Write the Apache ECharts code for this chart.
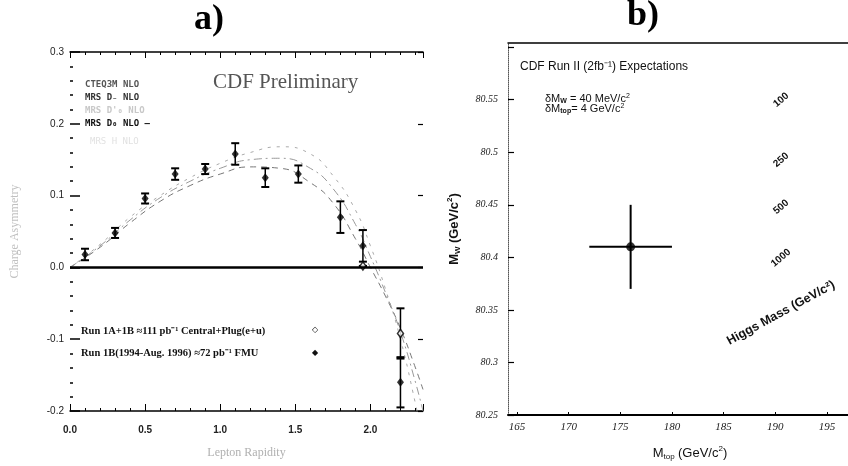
<!DOCTYPE html>
<html><head><meta charset="utf-8">
<script src="https://cdn.jsdelivr.net/npm/echarts@6/dist/echarts.min.js"></script>
<style>html,body{margin:0;padding:0;background:#fff}#c{width:848px;height:466px}</style>
</head><body><div id="c"></div>
<script>
// ---- Panel a) : charge asymmetry vs lepton rapidity ----
const rapidity   = [0.1, 0.3, 0.5, 0.7, 0.9, 1.1, 1.3, 1.52, 1.8, 1.95, 2.2];
const asymmetry  = [0.018, 0.048, 0.096, 0.13, 0.137, 0.158, 0.125, 0.13, 0.07, 0.03, -0.16];
const asymErr    = [0.008, 0.007, 0.007, 0.008, 0.007, 0.015, 0.013, 0.012, 0.022, 0.022, 0.035];
const openRap    = [1.95, 2.2];
const openAsym   = [0.002, -0.092];
const openErr    = [0.0, 0.035];
const curveX     = [0, 0.2, 0.4, 0.6, 0.8, 1.0, 1.2, 1.4, 1.6, 1.75, 1.9, 2.0, 2.1, 2.2, 2.3, 2.35];
const curveCTEQ  = [0, 0.028, 0.062, 0.092, 0.114, 0.13, 0.14, 0.138, 0.118, 0.09, 0.04, 0.0, -0.04, -0.085, -0.14, -0.17];
const curveMRSDm = [0, 0.032, 0.07, 0.1, 0.125, 0.145, 0.16, 0.168, 0.158, 0.128, 0.08, 0.03, -0.03, -0.1, -0.19, -0.24];
const curveMRSD0 = [0, 0.03, 0.066, 0.097, 0.12, 0.138, 0.15, 0.152, 0.138, 0.11, 0.06, 0.015, -0.035, -0.09, -0.16, -0.2];

// ---- Panel b) : M_W vs M_top ----
const mTop = [176];
const mW = [80.41];
const mTopErr = [4];
const mWErr = [0.04];
const mTopTicks = [165, 170, 175, 180, 185, 190, 195];
const higgsLabels = ['100', '250', '500', '1000'];

const chart = echarts.init(document.getElementById('c'), null, {renderer: 'canvas'});

function errBarY(params, api) {
  const x = api.value(0), y = api.value(1), e = api.value(2);
  const t = api.coord([x, y + e]), b = api.coord([x, y - e]);
  const cw = 4;
  return {type: 'group', children: [
    {type: 'line', shape: {x1: t[0], y1: t[1], x2: b[0], y2: b[1]}, style: {stroke: '#000', lineWidth: 1.5}},
    {type: 'line', shape: {x1: t[0] - cw, y1: t[1], x2: t[0] + cw, y2: t[1]}, style: {stroke: '#000', lineWidth: 2}},
    {type: 'line', shape: {x1: b[0] - cw, y1: b[1], x2: b[0] + cw, y2: b[1]}, style: {stroke: '#000', lineWidth: 2}}
  ]};
}
function errCross(params, api) {
  const x = api.value(0), y = api.value(1), ex = api.value(2), ey = api.value(3);
  const l = api.coord([x - ex, y]), r = api.coord([x + ex, y]);
  const t = api.coord([x, y + ey]), b = api.coord([x, y - ey]);
  return {type: 'group', children: [
    {type: 'line', shape: {x1: l[0], y1: l[1], x2: r[0], y2: r[1]}, style: {stroke: '#000', lineWidth: 2}},
    {type: 'line', shape: {x1: t[0], y1: t[1], x2: b[0], y2: b[1]}, style: {stroke: '#000', lineWidth: 2}}
  ]};
}

const solidData = rapidity.map((x, i) => [x, asymmetry[i], asymErr[i]]);
const openData = openRap.map((x, i) => [x, openAsym[i], openErr[i]]);
const curveLine = (arr) => curveX.map((x, i) => [x, arr[i]]);

const serif = 'Liberation Serif';
const sans = 'Liberation Sans';

const option = {
  backgroundColor: '#fff',
  animation: false,
  grid: [
    {left: 70, top: 52, width: 353, height: 359},
    {left: 508, top: 43, width: 340, height: 374}
  ],
  xAxis: [
    {gridIndex: 0, type: 'value', min: 0, max: 2.35, interval: 0.5, position: 'bottom',
     name: 'Lepton Rapidity', nameLocation: 'middle', nameGap: 36,
     nameTextStyle: {fontFamily: serif, fontSize: 12, color: '#b0b0b0'},
     axisLine: {show: true, onZero: false, lineStyle: {color: '#000', width: 1.5}},
     axisTick: {inside: true, length: 7, lineStyle: {color: '#000', width: 1}},
     minorTick: {show: true, splitNumber: 5, length: 3, lineStyle: {color: '#000'}},
     axisLabel: {showMaxLabel: false, fontFamily: sans, fontWeight: 'bold', fontSize: 10, color: '#222', margin: 14,
       formatter: v => v.toFixed(1)},
     splitLine: {show: false}},
    {gridIndex: 0, type: 'value', min: 0, max: 2.35, interval: 0.5, position: 'top',
     axisLine: {show: true, onZero: false, lineStyle: {color: '#000', width: 1.5}},
     axisTick: {inside: true, length: 6, lineStyle: {color: '#000'}},
     minorTick: {show: true, splitNumber: 5, length: 3, lineStyle: {color: '#000'}},
     axisLabel: {show: false}, splitLine: {show: false}},
    {gridIndex: 1, type: 'value', min: 164.13, max: 197.04, position: 'bottom',
     name: '{m|M}{s|top} {m|(GeV/c}{p|2}{m|)}', nameLocation: 'middle', nameGap: 30,
     nameTextStyle: {padding: [0, 0, 0, 24], rich: {
       m: {fontFamily: sans, fontSize: 13, color: '#111', lineHeight: 16},
       s: {fontFamily: sans, fontSize: 8, color: '#111', verticalAlign: 'bottom', lineHeight: 8},
       p: {fontFamily: sans, fontSize: 8, color: '#111', verticalAlign: 'top', lineHeight: 8}}},
     axisLine: {show: true, onZero: false, lineStyle: {color: '#000', width: 2}},
     axisTick: {show: true, inside: true, length: 3, customValues: mTopTicks, lineStyle: {color: '#000'}},
     axisLabel: {customValues: mTopTicks, fontFamily: serif, fontStyle: 'italic', fontSize: 11, color: '#222', margin: 7},
     splitLine: {show: false}},
    {gridIndex: 1, type: 'value', min: 164.13, max: 197.04, position: 'top',
     axisLine: {show: true, onZero: false, lineStyle: {color: '#000', width: 1.5}},
     axisTick: {show: false}, axisLabel: {show: false}, splitLine: {show: false}}
  ],
  yAxis: [
    {gridIndex: 0, type: 'value', min: -0.2, max: 0.3, interval: 0.1, position: 'left',
     name: 'Charge Asymmetry', nameLocation: 'middle', nameGap: 49, nameRotate: 90,
     nameTextStyle: {fontFamily: serif, fontSize: 12, color: '#c0c0c0'},
     axisLine: {show: false, onZero: false},
     axisTick: {show: true, inside: true, length: 10, lineStyle: {color: '#000', width: 1.5}},
     minorTick: {show: true, splitNumber: 5, length: 3, lineStyle: {color: '#000', width: 1.5}},
     axisLabel: {fontFamily: sans, fontSize: 10, color: '#222', margin: 6, formatter: v => v.toFixed(1)},
     splitLine: {show: false}},
    {gridIndex: 0, type: 'value', min: -0.2, max: 0.3, interval: 0.1, position: 'right',
     axisLine: {show: false, onZero: false},
     axisTick: {show: true, inside: true, length: 5, lineStyle: {color: '#000', width: 1.2}},
     axisLabel: {show: false}, splitLine: {show: false}},
    {gridIndex: 1, type: 'value', min: 80.25, max: 80.604, interval: 0.05, position: 'left',
     name: '{m|M}{s|W} {m|(GeV/c}{p|2}{m|)}', nameLocation: 'middle', nameGap: 46, nameRotate: 90,
     nameTextStyle: {rich: {
       m: {fontFamily: sans, fontSize: 13, fontWeight: 'bold', color: '#111', lineHeight: 16},
       s: {fontFamily: sans, fontSize: 8, fontWeight: 'bold', color: '#111', verticalAlign: 'bottom', lineHeight: 8},
       p: {fontFamily: sans, fontSize: 8, fontWeight: 'bold', color: '#111', verticalAlign: 'top', lineHeight: 8}}},
     axisLine: {show: true, onZero: false, lineStyle: {color: '#555', width: 1, type: 'dotted'}},
     axisTick: {show: true, inside: true, length: 6, lineStyle: {color: '#000', width: 1.2}},
     axisLabel: {showMaxLabel: false, fontFamily: serif, fontStyle: 'italic', fontSize: 10, color: '#222', margin: 10,
       formatter: v => (v > 80.57 ? '' : String(+v.toFixed(2)))},
     splitLine: {show: false}}
  ],
  series: [
    {name: 'CTEQ3M NLO', type: 'line', xAxisIndex: 0, yAxisIndex: 0, data: curveLine(curveCTEQ), smooth: true,
     showSymbol: false, lineStyle: {color: '#777', width: 1, type: [6, 5]}, silent: true, z: 2},
    {name: 'MRS D- NLO', type: 'line', xAxisIndex: 0, yAxisIndex: 0, data: curveLine(curveMRSDm), smooth: true,
     showSymbol: false, lineStyle: {color: '#aaa', width: 1, type: [3, 6]}, silent: true, z: 2},
    {name: 'MRS D0 NLO', type: 'line', xAxisIndex: 0, yAxisIndex: 0, data: curveLine(curveMRSD0), smooth: true,
     showSymbol: false, lineStyle: {color: '#999', width: 1, type: [8, 4, 2, 4]}, silent: true, z: 2,
     markLine: {silent: true, symbol: 'none', label: {show: false},
       lineStyle: {color: '#000', width: 2.5, type: 'solid'}, data: [{yAxis: 0}]}},
    {type: 'custom', xAxisIndex: 0, yAxisIndex: 0, renderItem: errBarY, data: solidData, z: 3},
    {type: 'custom', xAxisIndex: 0, yAxisIndex: 0, renderItem: errBarY, data: openData, z: 3},
    {name: 'FMU', type: 'scatter', xAxisIndex: 0, yAxisIndex: 0, data: solidData.map(d => [d[0], d[1]]),
     symbol: 'diamond', symbolSize: [7, 9], itemStyle: {color: '#000'}, z: 4},
    {name: 'Central+Plug', type: 'scatter', xAxisIndex: 0, yAxisIndex: 0, data: openData.map(d => [d[0], d[1]]),
     symbol: 'diamond', symbolSize: [6, 8], itemStyle: {color: '#fff', borderColor: '#000', borderWidth: 1.5}, z: 4},
    {type: 'custom', xAxisIndex: 2, yAxisIndex: 2, renderItem: errCross,
     data: mTop.map((x, i) => [x, mW[i], mTopErr[i], mWErr[i]]), z: 3},
    {type: 'scatter', xAxisIndex: 2, yAxisIndex: 2, data: mTop.map((x, i) => [x, mW[i]]),
     symbol: 'circle', symbolSize: 9, itemStyle: {color: '#000'}, z: 4}
  ],
  graphic: [
    {type: 'text', style: {text: 'a)', x: 209, y: 38, align: 'center', verticalAlign: 'bottom',
      font: 'bold 36px "Liberation Serif"', fill: '#000'}},
    {type: 'text', style: {text: 'b)', x: 643, y: 34, align: 'center', verticalAlign: 'bottom',
      font: 'bold 36px "Liberation Serif"', fill: '#000'}},
    {type: 'text', style: {text: 'CDF Preliminary', x: 213, y: 82, verticalAlign: 'middle',
      font: '21px "Liberation Serif"', fill: '#555'}},
    {type: 'text', style: {text: 'CTEQ3M NLO', x: 85, y: 85, verticalAlign: 'middle',
      font: 'bold 9px "DejaVu Sans Mono"', fill: '#555'}},
    {type: 'text', style: {text: 'MRS D₋ NLO', x: 85, y: 98, verticalAlign: 'middle',
      font: 'bold 9px "DejaVu Sans Mono"', fill: '#333'}},
    {type: 'text', style: {text: "MRS D'₀ NLO", x: 85, y: 111, verticalAlign: 'middle',
      font: 'bold 9px "DejaVu Sans Mono"', fill: '#c8c8c8'}},
    {type: 'text', style: {text: 'MRS D₀ NLO –', x: 85, y: 124, verticalAlign: 'middle',
      font: 'bold 9px "DejaVu Sans Mono"', fill: '#111'}},
    {type: 'text', style: {text: 'MRS H NLO', x: 90, y: 142, verticalAlign: 'middle',
      font: '9px "DejaVu Sans Mono"', fill: '#e2e2e2'}},
    {type: 'text', style: {text: 'Run 1A+1B ≈111 pb⁻¹ Central+Plug(e+u)', x: 81, y: 331, verticalAlign: 'middle',
      font: 'bold 10.5px "Liberation Serif"', fill: '#111'}},
    {type: 'text', style: {text: '◇', x: 315, y: 330, align: 'center', verticalAlign: 'middle',
      font: '8px "DejaVu Sans"', fill: '#111'}},
    {type: 'text', style: {text: 'Run 1B(1994-Aug. 1996) ≈72 pb⁻¹ FMU', x: 81, y: 353, verticalAlign: 'middle',
      font: 'bold 10.5px "Liberation Serif"', fill: '#111'}},
    {type: 'text', style: {text: '◆', x: 315, y: 353, align: 'center', verticalAlign: 'middle',
      font: '8px "DejaVu Sans"', fill: '#111'}},
    {type: 'text', style: {text: 'CDF Run II (2fb⁻¹) Expectations', x: 520, y: 67, verticalAlign: 'middle',
      font: '12px "Liberation Sans"', fill: '#111'}},
    {type: 'text', style: {text: '{m|δM}{s|W}{m| = 40 MeV/c}{p|2}', x: 545, y: 99, verticalAlign: 'middle',
      rich: {m: {font: '11px "Liberation Sans"', fill: '#111', lineHeight: 12},
             s: {font: 'bold 7px "Liberation Sans"', fill: '#111', verticalAlign: 'bottom', lineHeight: 7},
             p: {font: '7px "Liberation Sans"', fill: '#111', verticalAlign: 'top', lineHeight: 7}}}},
    {type: 'text', style: {text: '{m|δM}{s|top}{m|= 4 GeV/c}{p|2}', x: 545, y: 109, verticalAlign: 'middle',
      rich: {m: {font: '11px "Liberation Sans"', fill: '#111', lineHeight: 12},
             s: {font: 'bold 7px "Liberation Sans"', fill: '#111', verticalAlign: 'bottom', lineHeight: 7},
             p: {font: '7px "Liberation Sans"', fill: '#111', verticalAlign: 'top', lineHeight: 7}}}},
    {type: 'text', x: 781, y: 100, rotation: 0.7, style: {text: higgsLabels[0], x: 0, y: 0, align: 'center',
      verticalAlign: 'middle', font: 'bold 10px "Liberation Sans"', fill: '#111'}},
    {type: 'text', x: 781, y: 160, rotation: 0.7, style: {text: higgsLabels[1], x: 0, y: 0, align: 'center',
      verticalAlign: 'middle', font: 'bold 10px "Liberation Sans"', fill: '#111'}},
    {type: 'text', x: 781, y: 207, rotation: 0.7, style: {text: higgsLabels[2], x: 0, y: 0, align: 'center',
      verticalAlign: 'middle', font: 'bold 10px "Liberation Sans"', fill: '#111'}},
    {type: 'text', x: 781, y: 258, rotation: 0.7, style: {text: higgsLabels[3], x: 0, y: 0, align: 'center',
      verticalAlign: 'middle', font: 'bold 10px "Liberation Sans"', fill: '#111'}},
    {type: 'text', x: 781, y: 313, rotation: 0.5, style: {text: 'Higgs Mass (GeV/c²)', x: 0, y: 0, align: 'center',
      verticalAlign: 'middle', font: 'bold 12.5px "Liberation Sans"', fill: '#111'}}
  ]
};
chart.setOption(option);
</script>
</body></html>
